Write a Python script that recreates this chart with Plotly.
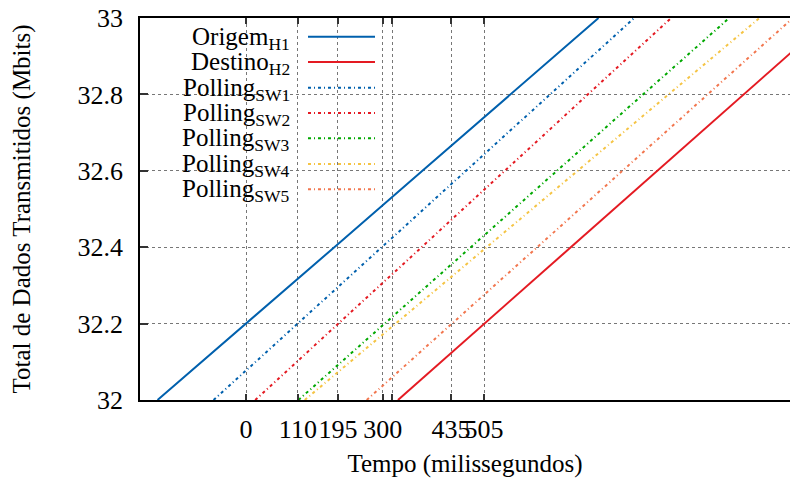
import plotly.graph_objects as go

# ---- data (time in ms at which each series reaches each level) ----
y_levels = [32.0, 32.2, 32.4, 32.6, 32.8, 33.0]
origem_h1 = [-187.8, 0.4, 187.4, 374.3, 561.0, 748.0]
destino_h2 = [322.4, 505.8, 689.3, 872.8, 1056.2, 1239.6]
polling_sw1 = [-68.9, 109.5, 288.1, 466.6, 645.1, 823.7]
polling_sw2 = [19.5, 196.0, 372.4, 549.0, 725.6, 902.0]
polling_sw3 = [111.2, 294.1, 476.9, 659.7, 842.4, 1025.4]
polling_sw4 = [124.6, 317.6, 510.6, 703.6, 896.6, 1089.6]
polling_sw5 = [256.1, 436.9, 617.8, 798.6, 979.5, 1160.4]

series_names = ["Origem<sub>H1</sub>", "Destino<sub>H2</sub>", "Polling<sub>SW1</sub>",
                "Polling<sub>SW2</sub>", "Polling<sub>SW3</sub>", "Polling<sub>SW4</sub>",
                "Polling<sub>SW5</sub>"]
series_values = [origem_h1, destino_h2, polling_sw1, polling_sw2, polling_sw3, polling_sw4, polling_sw5]

x_tick_vals = [0, 110, 195, 290, 310, 435, 505]
x_tick_text = ["0", "110", "195", "300", "", "435", "505"]
y_tick_vals = [32, 32.2, 32.4, 32.6, 32.8, 33]
y_tick_text = ["32", "32.2", "32.4", "32.6", "32.8", "33"]

# ---- styles ----
colors = ["#0060ad", "#e41a22", "#0060ad", "#e41a22", "#00a800", "#f5c444", "#f2764e"]
dashdot = "3px,3px,1px,3px"
dashes = ["solid", "solid", dashdot, dashdot, dashdot, dashdot, dashdot]
FONT = "Liberation Serif"

W, H = 790, 479
L, R, T, B = 140, 0, 18, 79
x_range = [-225.0, 1154.3]

fig = go.Figure()
for name, xs, c, d in zip(series_names, series_values, colors, dashes):
    fig.add_trace(go.Scatter(x=xs, y=y_levels, mode="lines", name=name,
                             line=dict(color=c, width=2, dash=d), showlegend=False,
                             hoverinfo="skip"))

def px2paper_x(px):
    return (px - L) / (W - L - R)

def px2paper_y(py):
    return (H - B - py) / (H - B - T)

shapes = [dict(type="rect", xref="paper", yref="paper",
               x0=px2paper_x(141), x1=px2paper_x(388), y0=px2paper_y(202), y1=px2paper_y(19),
               fillcolor="white", line=dict(width=0), layer="between")]
annotations = []
row_y = [36.7, 62, 87.7, 113, 138.3, 164, 189.3]
for name, c, d, ry in zip(series_names, colors, dashes, row_y):
    shapes.append(dict(type="line", xref="paper", yref="paper",
                       x0=px2paper_x(308), x1=px2paper_x(375),
                       y0=px2paper_y(ry), y1=px2paper_y(ry),
                       line=dict(color=c, width=2, dash=d), layer="above"))
    annotations.append(dict(text=name, xref="paper", yref="paper",
                            x=px2paper_x(292), y=px2paper_y(ry + 1.5),
                            xanchor="right", yanchor="middle", showarrow=False,
                            font=dict(family=FONT, size=25, color="black")))

fig.update_layout(
    width=W, height=H,
    margin=dict(l=L, r=R, t=T, b=B, autoexpand=False),
    paper_bgcolor="white", plot_bgcolor="white",
    font=dict(family=FONT, size=24, color="black"),
    shapes=shapes, annotations=annotations,
)
fig.update_xaxes(
    range=x_range, tickmode="array", tickvals=x_tick_vals, ticktext=x_tick_text,
    tickangle=0,
    showline=True, linecolor="black", linewidth=2, mirror="ticks",
    ticks="inside", ticklen=6, tickwidth=1.5, tickcolor="#333",
    showgrid=True, gridcolor="#777", griddash="dot", gridwidth=1,
    zeroline=False, ticklabelstandoff=5,
    title=dict(text="Tempo (milissegundos)", standoff=11,
               font=dict(family=FONT, size=25, color="black")),
    tickfont=dict(family=FONT, size=26, color="black"),
)
fig.update_yaxes(
    range=[32, 33], tickmode="array", tickvals=y_tick_vals, ticktext=y_tick_text,
    showline=True, linecolor="black", linewidth=1.5, mirror=False,
    ticks="inside", ticklen=8, tickwidth=1.5, tickcolor="#333",
    showgrid=True, gridcolor="#777", griddash="dot", gridwidth=1,
    zeroline=False, ticklabelstandoff=10,
    title=dict(text="Total de Dados Transmitidos (Mbits)", standoff=40,
               font=dict(family=FONT, size=25, color="black")),
    tickfont=dict(family=FONT, size=26, color="black"),
)

fig.write_html("out.html", config={"displayModeBar": False},
               post_script="document.body.style.margin='0';")
